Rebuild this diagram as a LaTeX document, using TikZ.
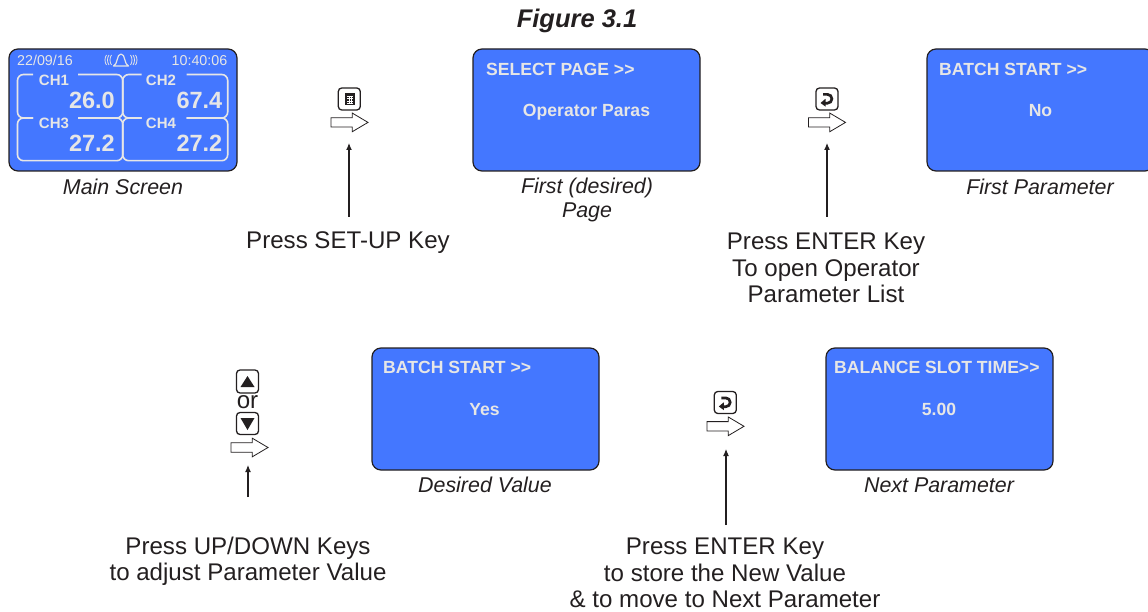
\documentclass[tikz,border=0pt]{standalone}
\usepackage{fontspec}
\setmainfont{Liberation Sans}
\usetikzlibrary{arrows.meta}
\definecolor{scrblue}{HTML}{4477FF}
\definecolor{scrtxt}{HTML}{E6E6E6}
\definecolor{ink}{HTML}{231F20}
\newcommand{\enterglyph}[1]{%
  \draw[ink,line width=2.7pt] ([shift={(-4,-4.6)}]#1.center) -- ([shift={(0.5,-4.6)}]#1.center) arc (-90:90:4.4) -- ([shift={(-2,4.2)}]#1.center);
  \fill[ink] ([shift={(-6.5,4.0)}]#1.center) -- ([shift={(-1.5,-0.2)}]#1.center) -- ([shift={(-1.5,7.6)}]#1.center) -- cycle;
}
\newcommand{\hollowarrow}[3]{%
  \coordinate (#1) at (#2,#3);
  \draw[flowline] ([shift={(-18.5,-4.7)}]#1) -- ([shift={(2.8,-4.7)}]#1) -- ([shift={(2.8,-9.3)}]#1) -- ([shift={(18.5,0)}]#1) -- ([shift={(2.8,9.3)}]#1) -- ([shift={(2.8,4.7)}]#1) -- ([shift={(-18.5,4.7)}]#1) -- cycle;
}
\tikzset{
  x=1pt,y=-1pt,
  screen/.style={draw=ink,line width=1.2pt,fill=scrblue,rounded corners=9pt},
  scrhead/.style={anchor=west,text=scrtxt,font=\fontsize{17.6}{18}\selectfont\bfseries,inner sep=0pt},
  scrval/.style={text=scrtxt,font=\fontsize{17.6}{18}\selectfont\bfseries,inner sep=0pt},
  captxt/.style={font=\fontsize{21.4}{24}\selectfont\itshape,text=ink,align=center,inner sep=0pt},
  note/.style={font=\fontsize{24.1}{26.8}\selectfont,text=ink,align=center,inner sep=0pt},
  keybox/.style={draw=ink,line width=1.3pt,fill=white,rounded corners=3.5pt,minimum width=22pt,minimum height=22pt,inner sep=0pt},
  flowline/.style={draw=ink,fill=white,line width=0.8pt,line join=miter},
  pointer/.style={draw=ink,line width=1.1pt,-{Latex[length=7pt,width=6pt]}},
  frameline/.style={draw=scrtxt,line width=1.6pt,rounded corners=6pt},
  chlab/.style={text=scrtxt,font=\fontsize{15}{15}\selectfont\bfseries,inner sep=0pt},
  chval/.style={text=scrtxt,font=\fontsize{23.5}{24}\selectfont\bfseries,inner sep=0pt,anchor=east},
  stat/.style={text=scrtxt,font=\fontsize{14.3}{14}\selectfont,inner sep=0pt},
}
\begin{document}
\begin{tikzpicture}
\useasboundingbox (0,0) rectangle (1148,612);
\node[text=ink,font=\fontsize{25.5}{26}\selectfont\bfseries\itshape,inner sep=0pt] (title) at (577,21) {Figure 3.1};

% main screen
\draw[screen] (9,49) rectangle (237,171);
\node[stat] (date) at (45,60.5) {22/09/16};
\node[stat] (time) at (199.5,60.5) {10:40:06};
% bell
\draw[scrtxt,line width=1.2pt,line join=round] (113.5,66) .. controls (118,64.5) and (116.5,54) .. (121,54) .. controls (125.5,54) and (124,64.5) .. (128.5,66) -- cycle;
\foreach \r in {0,2.5,5}{
  \draw[scrtxt,line width=.8pt] (111.5-\r,55) .. controls (109.5-\r,58) and (109.5-\r,62) .. (111.5-\r,65);
  \draw[scrtxt,line width=.8pt] (130.5+\r,55) .. controls (132.5+\r,58) and (132.5+\r,62) .. (130.5+\r,65);
}
% channel frames
\draw[frameline] (33,74.5) -- (17.5,74.5) -- (17.5,118) -- (33,118);
\draw[frameline] (78,118) -- (122.7,118) -- (122.7,74.5) -- (78,74.5);
\draw[frameline] (141.7,74.5) -- (122.7,74.5) -- (122.7,118) -- (141.7,118);
\draw[frameline] (186.7,118) -- (227.7,118) -- (227.7,74.5) -- (186.7,74.5);
\draw[frameline] (33,118) -- (17.5,118) -- (17.5,160.7) -- (122.7,160.7) -- (122.7,118) -- (78,118);
\draw[frameline] (141.7,118) -- (122.7,118) -- (122.7,160.7) -- (227.7,160.7) -- (227.7,118) -- (186.7,118);
\node[chlab] (ch1) at (54,80.5) {CH1};
\node[chlab] (ch2) at (161,80.5) {CH2};
\node[chlab] (ch3) at (54,123.5) {CH3};
\node[chlab] (ch4) at (161,123.5) {CH4};
\node[chval] (v1) at (115,100) {26.0};
\node[chval] (v2) at (222.5,100) {67.4};
\node[chval] (v3) at (115,143.5) {27.2};
\node[chval] (v4) at (222.5,143.5) {27.2};
\node[captxt] (c1) at (123,187) {Main Screen};

% screens
\draw[screen] (473,49) rectangle (700,171);
\node[scrhead] (h2) at (486,69.5) {SELECT PAGE >{}>};
\node[scrval] (w2) at (586.5,112) {Operator Paras};
\node[captxt] (c2) at (587,200) {First (desired)\\Page};

\draw[screen] (927,49) rectangle (1154,171);
\node[scrhead] (h3) at (939,69.5) {BATCH START >{}>};
\node[scrval] (w3) at (1040.5,110.5) {No};
\node[captxt] (c3) at (1040,187) {First Parameter};

\draw[screen] (372,348) rectangle (599,470);
\node[scrhead] (h4) at (383,367.5) {BATCH START >{}>};
\node[scrval] (w4) at (484.5,410) {Yes};
\node[captxt] (c4) at (485,485) {Desired Value};

\draw[screen] (826,348) rectangle (1053,470);
\node[scrhead] (h5) at (834,367.5) {BALANCE SLOT TIME>{}>};
\node[scrval] (w5) at (939,409) {5.00};
\node[captxt] (c5) at (939,485) {Next Parameter};

% keys and arrows
\node[keybox] (k1) at (349.3,99) {};
\fill[ink] (344.5,93.5) rectangle (354.5,105.5);
\draw[white,line width=.5pt] (347,96) -- (353,96) (347,98.5) -- (353,98.5) (347,101) -- (353,101) (347,103.5) -- (353,103.5) (349,96) -- (349,104) (351,96) -- (351,104);
\hollowarrow{f1}{349.5}{122.4}
\coordinate (t1) at (349,143);
\node[note,anchor=north] (n1) at (348,231.5) {Press SET-UP Key};
\draw[pointer] (n1.north -| t1) ++(0,-14.5) -- (t1);

\node[keybox] (k2) at (827,99) {};
\enterglyph{k2}
\hollowarrow{f2}{827}{122.4}
\coordinate (t2) at (827,143);
\node[note,anchor=north] (n2) at (826,232.5) {Press ENTER Key\\To open Operator\\Parameter List};
\draw[pointer] (n2.north -| t2) ++(0,-15.5) -- (t2);

\node[keybox,minimum height=23pt] (k3) at (247.5,381.5) {};
\fill[ink] (247.5,376) -- (254.5,387) -- (240.5,387) -- cycle;
\node[text=ink,font=\fontsize{24.1}{24}\selectfont,inner sep=0pt] (or) at (247.5,402) {or};
\node[keybox] (k4) at (247.5,423.5) {};
\fill[ink] (247.5,430) -- (254.5,418) -- (240.5,418) -- cycle;
\hollowarrow{f3}{249.5}{447.5}
\coordinate (t3) at (248,465);
\node[note,anchor=north] (n3) at (248,536.5) {Press UP/DOWN Keys\\to adjust Parameter Value};
\draw[pointer] (n3.north -| t3) ++(0,-39.5) -- (t3);

\node[keybox] (k5) at (725.3,402.5) {};
\enterglyph{k5}
\hollowarrow{f4}{725.5}{426.3}
\coordinate (t4) at (726,449);
\node[note,anchor=north] (n4) at (725,537.5) {Press ENTER Key\\to store the New Value\\\& to move to Next Parameter};
\draw[pointer] (n4.north -| t4) ++(0,-12.5) -- (t4);
\end{tikzpicture}
\end{document}
